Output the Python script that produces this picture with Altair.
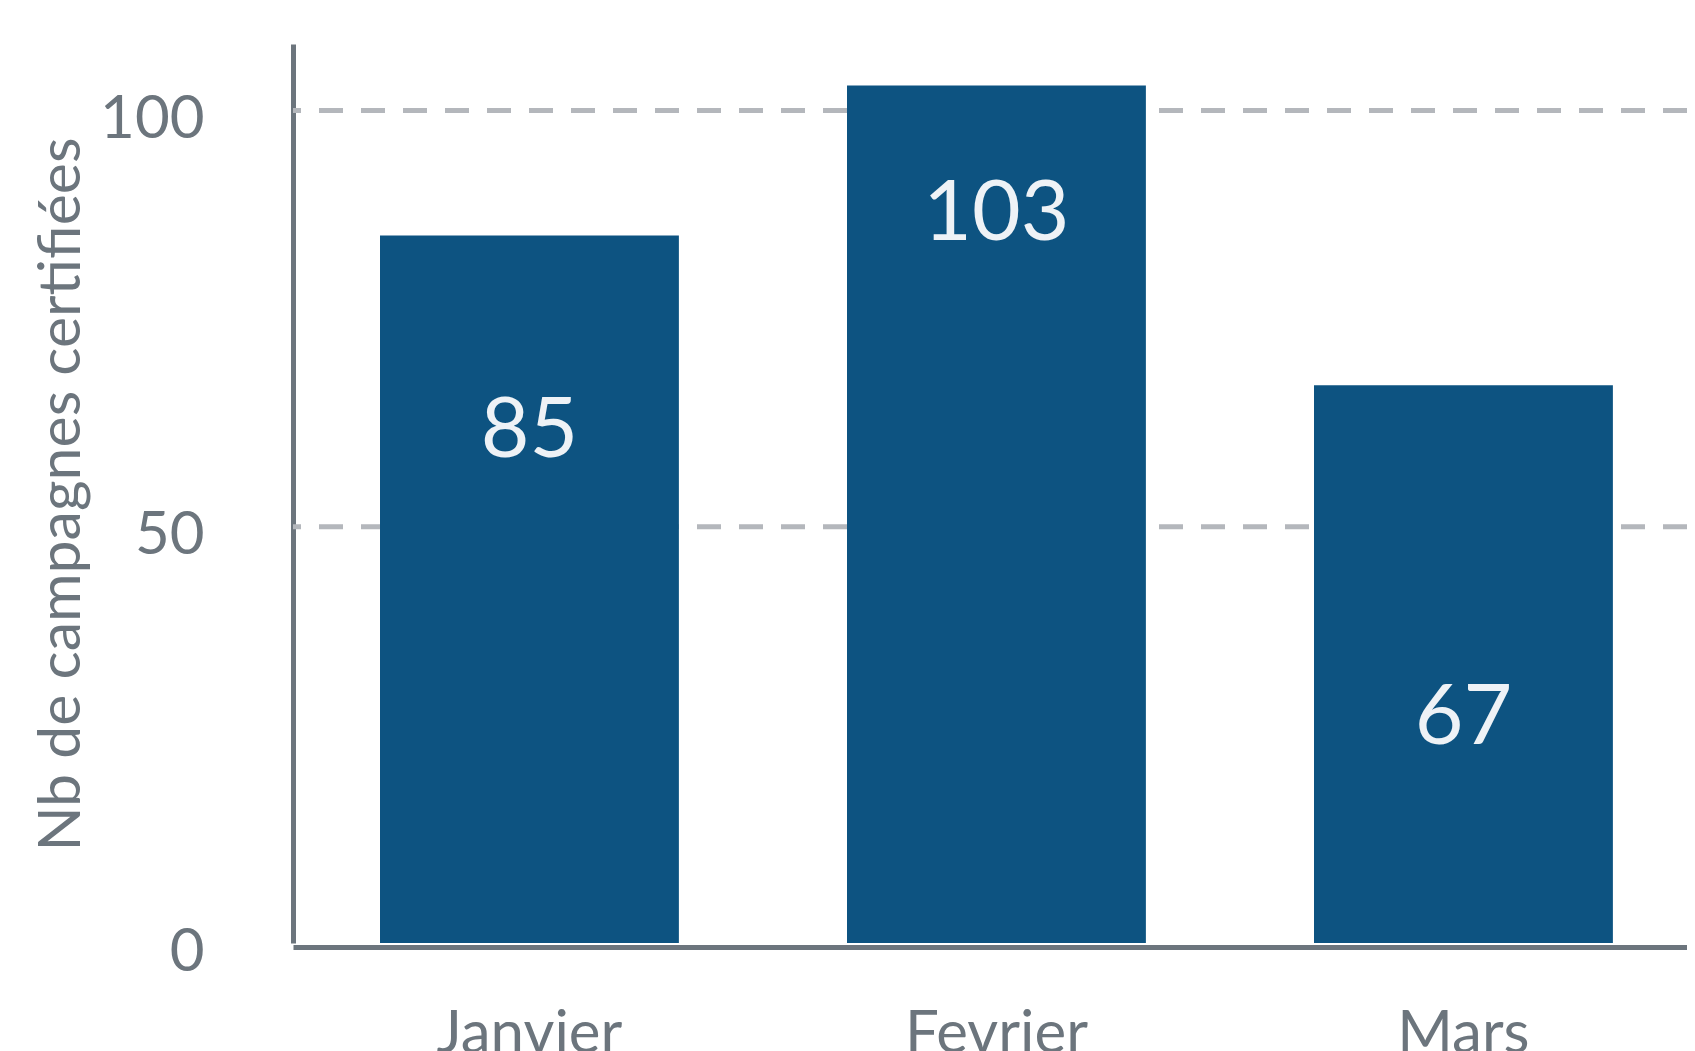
import altair as alt
import pandas as pd

months = ["Janvier", "Fevrier", "Mars"]
values = [85, 103, 67]
label_y = [62, 88, 27.5]
y_ticks = [0, 50, 100]
grid_values = [50, 100]

df = pd.DataFrame({"mois": months, "valeur": values, "pos": label_y})
grid_df = pd.DataFrame({"g": grid_values})

GRAY = "#6c757d"
GRID = "#b4b7bc"
BAR = "#0d5381"
FONT = "Lato"

y_scale = alt.Scale(domain=[0, 108], nice=False)

y_axis = alt.Axis(
    title="Nb de campagnes certifiées",
    values=y_ticks,
    labelFont=FONT,
    labelFontSize=60,
    labelColor=GRAY,
    labelPadding=89,
    labelBaseline="alphabetic",
    labelOffset=27,
    ticks=False,
    tickSize=0,
    domainColor=GRAY,
    domainWidth=5,
    grid=False,
    titleFont=FONT,
    titleFontSize=59,
    titleFontWeight="normal",
    titleColor=GRAY,
    titleX=-214,
    titleY=450,
    titleAlign="center",
    titleBaseline="alphabetic",
)

grid = alt.Chart(grid_df).mark_rule(
    color=GRID, strokeWidth=5, strokeDash=[24, 18]
).encode(y=alt.Y("g:Q", scale=y_scale, axis=y_axis))

x_enc = alt.X(
    "mois:N",
    sort=months,
    scale=alt.Scale(paddingInner=0.36, paddingOuter=0.1725, align=0.54),
    axis=alt.Axis(
        title=None,
        labelAngle=0,
        labelFont=FONT,
        labelFontSize=60,
        labelColor=GRAY,
        labelPadding=58,
        labelLimit=0,
        ticks=False,
        tickSize=0,
        domainColor=GRAY,
        domainWidth=5,
        offset=4,
        grid=False,
    ),
)

bars = alt.Chart(df).mark_bar(color=BAR).encode(
    x=x_enc,
    y=alt.Y("valeur:Q", scale=y_scale, axis=y_axis),
)

labels = alt.Chart(df).mark_text(
    font=FONT, fontSize=84, color="#eef2f6", baseline="middle", align="center", dy=5
).encode(
    x=alt.X("mois:N", sort=months),
    y=alt.Y("pos:Q", scale=y_scale),
    text=alt.Text("valeur:Q"),
)

chart = (
    alt.layer(grid, bars, labels)
    .properties(
        width=1394,
        height=899,
        background="white",
        autosize=alt.AutoSizeParams(type="none"),
        padding={"left": 285, "top": 36, "right": 0, "bottom": 109},
    )
    .configure_view(stroke=None, strokeWidth=0)
    .configure_axis(grid=False)
)

chart.save("out.html", embed_options={"renderer": "svg", "actions": False})
